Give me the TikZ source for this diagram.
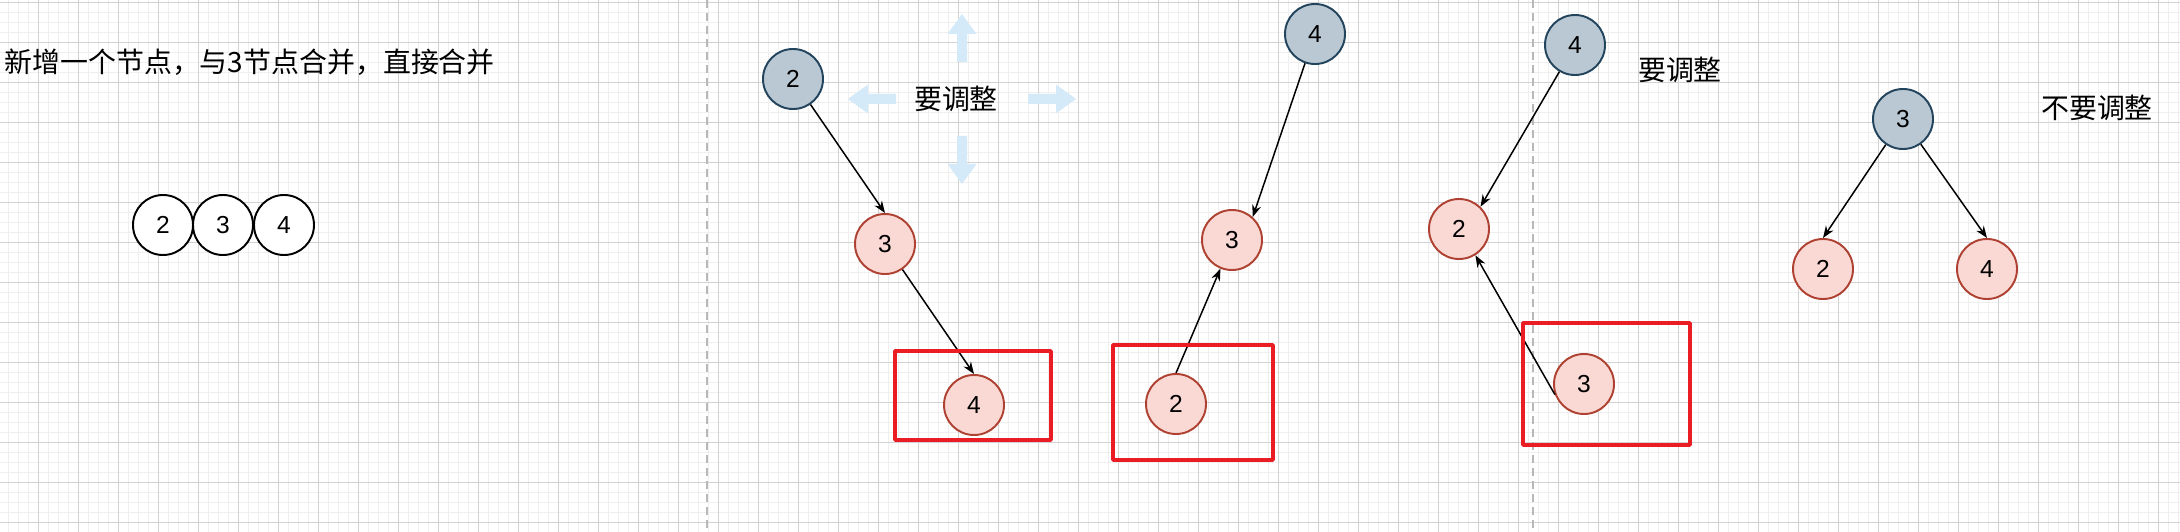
\documentclass[tikz,border=0pt]{standalone}
\usepackage{fontspec}
\setmainfont{Liberation Sans}
\newfontfamily\cjk{Noto Sans CJK SC}
\usetikzlibrary{arrows.meta}
\definecolor{grayfill}{HTML}{BAC8D3}
\definecolor{graydraw}{HTML}{23445D}
\definecolor{pinkfill}{HTML}{FAD9D5}
\definecolor{pinkdraw}{HTML}{AE4132}
\definecolor{boxred}{HTML}{EA1C24}
\definecolor{hintblue}{HTML}{D5EAF8}
\definecolor{gridmajor}{HTML}{D2D2D2}
\definecolor{gridminor}{HTML}{EFEFEF}
\definecolor{sepgray}{HTML}{B8B8B8}
\begin{document}
\begin{tikzpicture}[x=0.2mm, y=-0.2mm, line join=round, >={Stealth[length=2.4mm,width=1.8mm]},
 plainnode/.style={circle, draw=black, line width=1.1pt, fill=white, minimum size=12mm, inner sep=0pt, font=\fontsize{14pt}{16pt}\selectfont},
 rootnode/.style={plainnode, draw=graydraw, fill=grayfill},
 kidnode/.style={plainnode, draw=pinkdraw, fill=pinkfill},
 memo/.style={inner sep=0pt, font=\cjk\fontsize{15.9pt}{18pt}\selectfont},
 joint/.style={->, line width=0.85pt},
 redbox/.style={draw=boxred, line width=2pt}]
 \def\picw{2180} \def\pich{532}
 \useasboundingbox (0,0) rectangle (\picw,\pich);
 \fill[white] (0,0) rectangle (\picw,\pich);
 \foreach \x in {8.5,18.5,...,2180} \draw[gridminor, line width=0.6pt] (\x,0)--(\x,\pich);
 \foreach \y in {12.3,22.3,...,532} \draw[gridminor, line width=0.6pt] (0,\y)--(\picw,\y);
 \foreach \x in {38.5,78.5,...,2180} \draw[gridmajor, line width=0.6pt] (\x,0)--(\x,\pich);
 \foreach \y in {2.3,42.3,...,532} \draw[gridmajor, line width=0.6pt] (0,\y)--(\picw,\y);
 \foreach \x in {707,1533} \draw[sepgray, line width=1.1pt, dash pattern=on 1.6mm off 1mm] (\x,0)--(\x,\pich);

 \node[memo, anchor=west] (title) at (4,62) {新增一个节点，与3节点合并，直接合并};
 \node[plainnode] (a2) at (163,225) {2};
 \node[plainnode] (a3) at (223,225) {3};
 \node[plainnode] (a4) at (284,225) {4};

 \begin{scope}[shift={(962,99)}]
  \foreach \a/\r in {0/66,90/37,180/66,270/37}
   \fill[hintblue, rotate=\a] (\r,-5)--(\r+28,-5)--(\r+28,-14.5)--(\r+48,0)--(\r+28,14.5)--(\r+28,5)--(\r,5)--cycle;
 \end{scope}
 \node[memo] (hint) at (956,99) {要调整};

 \node[rootnode] (b2) at (793,79) {2};
 \node[kidnode] (b3) at (885,244) {3};
 \node[kidnode] (b4) at (974,405) {4};
 \draw[joint] (b2)--(b3.north);
 \draw[joint] (b3)--(b4.north);
 \draw[redbox] (895,351) rectangle (1051,440);

 \node[rootnode] (c4) at (1315,34) {4};
 \node[kidnode] (c3) at (1232,240) {3};
 \node[kidnode] (c2) at (1176,404) {2};
 \draw[joint] (c4)--(c3.48);
 \draw[joint] (c2.north)--(c3.248);
 \draw[redbox] (1113,345) rectangle (1273,460);

 \node[rootnode] (d4) at (1575,45) {4};
 \node[kidnode] (d2) at (1459,229) {2};
 \node[kidnode] (d3) at (1584,384) {3};
 \draw[joint] (d4)--(d2.46);
 \draw[joint] (d3.200)--(d2.302);
 \draw[redbox] (1523,323) rectangle (1690,445);
 \node[memo] (ask) at (1680,70) {要调整};

 \node[rootnode] (e3) at (1903,119) {3};
 \node[kidnode] (e2) at (1823,269) {2};
 \node[kidnode] (e4) at (1987,269) {4};
 \draw[joint] (e3)--(e2.north);
 \draw[joint] (e3)--(e4.north);
 \node[memo] (skip) at (2097,108) {不要调整};
\end{tikzpicture}
\end{document}
